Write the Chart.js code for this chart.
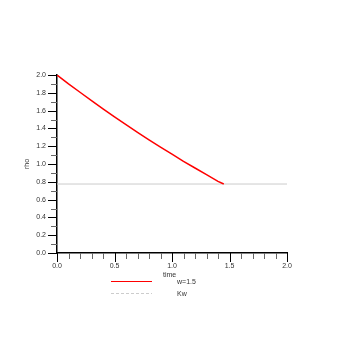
<!DOCTYPE html>
<html>
<head>
<meta charset="utf-8">
<script src="https://cdn.jsdelivr.net/npm/chart.js@4"></script>
<style>
  html, body { margin: 0; padding: 0; background: #fff; }
  #wrap { width: 354px; height: 354px; }
</style>
</head>
<body>
<div id="wrap"><canvas id="chartRho" width="354" height="354"></canvas></div>
<script>
// values
const timeValues = [0, 0.1, 0.2, 0.3, 0.4, 0.5, 0.6, 0.7, 0.8, 0.9, 1.0, 1.1, 1.2, 1.3, 1.4, 1.45];
const rhoValues = [2.0, 1.9, 1.806, 1.713, 1.62, 1.53, 1.443, 1.356, 1.272, 1.19, 1.11, 1.03, 0.955, 0.88, 0.805, 0.775];
const kwTime = [0, 2.0];
const kwValues = [0.775, 0.775];
const seriesLabels = ["w=1.5", "Kw"];
const xTitle = "time";
const yTitle = "rho";

const FONT = "Liberation Sans, Arial, sans-serif";

const toPoints = (xs, ys) => xs.map((x, i) => ({ x: x, y: ys[i] }));

// tick marks (major longer) + titles + legend
const decorPlugin = {
  id: "decor",
  afterDraw(chart) {
    const ctx = chart.ctx;
    const xs = chart.scales.x, ys = chart.scales.y;
    const area = chart.chartArea;
    ctx.save();
    ctx.strokeStyle = "#000";
    ctx.lineWidth = 1;
    // y ticks
    for (let i = 0; i <= 20; i++) {
      const v = i / 10;
      const py = Math.round(ys.getPixelForValue(v)) + 0.5;
      const major = i % 2 === 0;
      ctx.strokeStyle = major ? "#000" : "#666";
      ctx.beginPath();
      ctx.moveTo(area.left - (major ? 9 : 6), py);
      ctx.lineTo(area.left, py);
      ctx.stroke();
    }
    // x ticks
    for (let i = 0; i <= 20; i++) {
      const v = i / 10;
      const px = Math.round(xs.getPixelForValue(v)) + 0.5;
      const major = i % 5 === 0;
      ctx.strokeStyle = major ? "#000" : "#666";
      ctx.beginPath();
      ctx.moveTo(px, area.bottom);
      ctx.lineTo(px, area.bottom + (major ? 9 : 6));
      ctx.stroke();
    }
    // titles
    ctx.fillStyle = "#333";
    ctx.font = "7px " + FONT;
    ctx.textAlign = "left";
    ctx.textBaseline = "middle";
    ctx.fillText(xTitle, 163, 275);
    ctx.save();
    ctx.translate(27, 164);
    ctx.rotate(-Math.PI / 2);
    ctx.textAlign = "center";
    ctx.fillText(yTitle, 0, 0);
    ctx.restore();
    // legend
    const ds = chart.data.datasets;
    const rows = [282, 294];
    ds.forEach((d, i) => {
      const y = rows[i] - 0.5;
      ctx.strokeStyle = d.borderColor;
      ctx.lineWidth = i === 0 ? 1 : 1;
      ctx.setLineDash(i === 1 ? [3, 2] : []);
      ctx.beginPath();
      ctx.moveTo(111, y);
      ctx.lineTo(152, y);
      ctx.stroke();
      ctx.setLineDash([]);
      ctx.fillStyle = "#333";
      ctx.fillText(seriesLabels[i], 177, rows[i]);
    });
    ctx.restore();
  },
};

const ctx = document.getElementById("chartRho").getContext("2d");
const myChart = new Chart(ctx, {
  type: "scatter",
  data: {
    datasets: [
      {
        label: seriesLabels[0],
        data: toPoints(timeValues, rhoValues),
        showLine: true,
        borderColor: "#ff0000",
        borderWidth: 1.5,
        pointRadius: 0,
        tension: 0,
      },
      {
        label: seriesLabels[1],
        data: toPoints(kwTime, kwValues),
        showLine: true,
        borderColor: "#cccccc",
        borderWidth: 1,
        pointRadius: 0,
      },
    ],
  },
  options: {
    responsive: false,
    animation: false,
    layout: { padding: { left: 0, right: 67, top: 75, bottom: 0 } },
    plugins: {
      legend: { display: false },
      tooltip: { enabled: false },
    },
    scales: {
      x: {
        type: "linear",
        min: 0,
        max: 2,
        afterFit: (s) => { s.height = 101; },
        grid: { display: false, drawTicks: false },
        border: { display: true, color: "#000", width: 1.5 },
        ticks: {
          stepSize: 0.5,
          padding: 9,
          color: "#333",
          font: { family: FONT, size: 7 },
          maxRotation: 0,
          callback: (v) => v.toFixed(1),
        },
      },
      y: {
        type: "linear",
        min: 0,
        max: 2,
        afterFit: (s) => { s.width = 57; },
        grid: { display: false, drawTicks: false },
        border: { display: true, color: "#000", width: 1.5 },
        ticks: {
          stepSize: 0.2,
          padding: 11,
          color: "#333",
          font: { family: FONT, size: 7 },
          callback: (v) => v.toFixed(1),
        },
      },
    },
  },
  plugins: [decorPlugin],
});
</script>
</body>
</html>
